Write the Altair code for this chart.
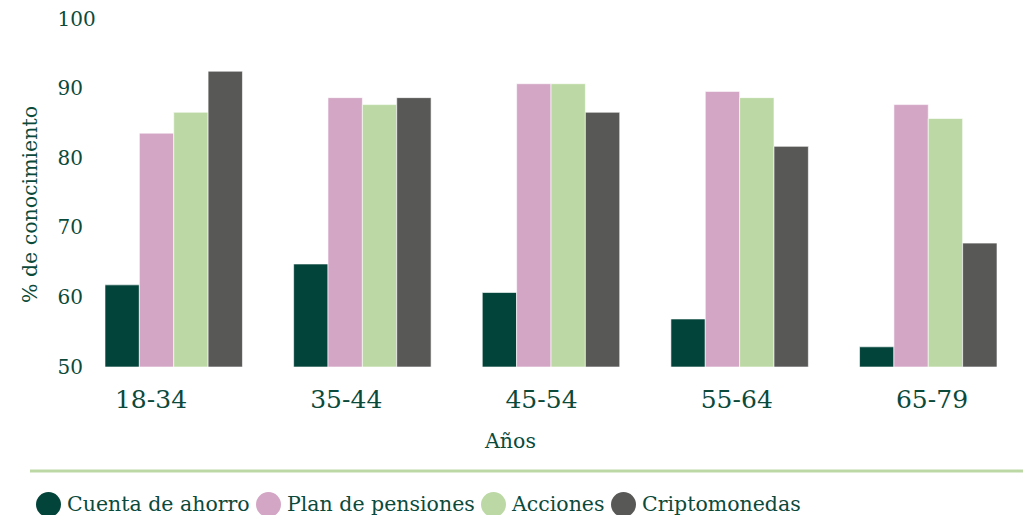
import altair as alt
import pandas as pd

ages = ["18-34", "35-44", "45-54", "55-64", "65-79"]
series = ["Cuenta de ahorro", "Plan de pensiones", "Acciones", "Criptomonedas"]
colors = ["#03443a", "#d3a6c5", "#bcd9a5", "#585857"]

cuenta = [61.8, 64.8, 60.7, 56.9, 52.9]
plan = [83.6, 88.7, 90.7, 89.6, 87.7]
acciones = [86.6, 87.7, 90.7, 88.7, 85.7]
cripto = [92.5, 88.7, 86.6, 81.7, 67.8]

y_ticks = [50, 60, 70, 80, 90, 100]

rows = []
for s, vals in zip(series, [cuenta, plan, acciones, cripto]):
    for a, v in zip(ages, vals):
        rows.append({"age": a, "series": s, "value": v})
df = pd.DataFrame(rows)
df_ages = pd.DataFrame({"age": ages})
df_rule = pd.DataFrame({"k": [0]})

FONT = "DejaVu Serif"
TXT = "#0b4a3b"

bars = alt.Chart(df).mark_bar(stroke="#ffffff", strokeWidth=0.6).encode(
    x=alt.X("age:N", sort=ages,
            scale=alt.Scale(paddingInner=0.2713, paddingOuter=0.0795),
            axis=alt.Axis(labels=False, ticks=False, domain=False, grid=False,
                          title="Años", titleFont=FONT, titleFontSize=20.5,
                          titleFontWeight="normal", titleColor=TXT,
                          titleX=420, titleY=80, titleAlign="center",
                          titleBaseline="alphabetic")),
    xOffset=alt.XOffset("series:N", sort=series),
    y=alt.Y("value:Q", scale=alt.Scale(domain=[50, 100], zero=False, nice=False),
            axis=alt.Axis(values=y_ticks, ticks=False, tickSize=0, domain=False, grid=False,
                          labelFont=FONT, labelFontSize=20, labelColor=TXT,
                          labelAlign="left", labelPadding=33, labelBaseline="middle",
                          title="% de conocimiento", titleFont=FONT, titleFontSize=20.5,
                          titleFontWeight="normal", titleColor=TXT,
                          titleAngle=270, titleX=-60, titleY=185,
                          titleAlign="center", titleBaseline="middle")),
    y2=alt.datum(50),
    color=alt.Color("series:N", sort=series,
                    scale=alt.Scale(domain=series, range=colors),
                    legend=alt.Legend(orient="none", legendX=-54, legendY=473,
                                      direction="horizontal", title=None,
                                      symbolType="circle", symbolSize=625,
                                      symbolStrokeWidth=0, symbolOpacity=1,
                                      labelFont=FONT, labelFontSize=20.5,
                                      labelColor=TXT, labelOffset=6,
                                      columnPadding=6, padding=0,
                                      labelLimit=400)),
)

xlabels = alt.Chart(df_ages).mark_text(
    font=FONT, fontSize=25, color=TXT, align="center", baseline="alphabetic"
).encode(
    x=alt.X("age:N", sort=ages,
            scale=alt.Scale(type="point", domain=ages, range=[61, 842], padding=0),
            axis=None),
    y=alt.value(389),
    text="age:N",
)

rule = alt.Chart(df_rule).mark_rule(color="#bcd9a5", strokeWidth=3).encode(
    x=alt.value(-60), x2=alt.value(933), y=alt.value(452)
)

chart = alt.layer(bars, xlabels, rule).resolve_scale(x="independent").properties(
    width=922, height=348,
    autosize=alt.AutoSizeParams(type="none"),
    padding={"left": 82, "top": 11, "right": 11, "bottom": 148},
).configure(background="white").configure_view(strokeWidth=0, stroke=None)

chart.save("out.html", embed_options={"renderer": "svg", "actions": False})
